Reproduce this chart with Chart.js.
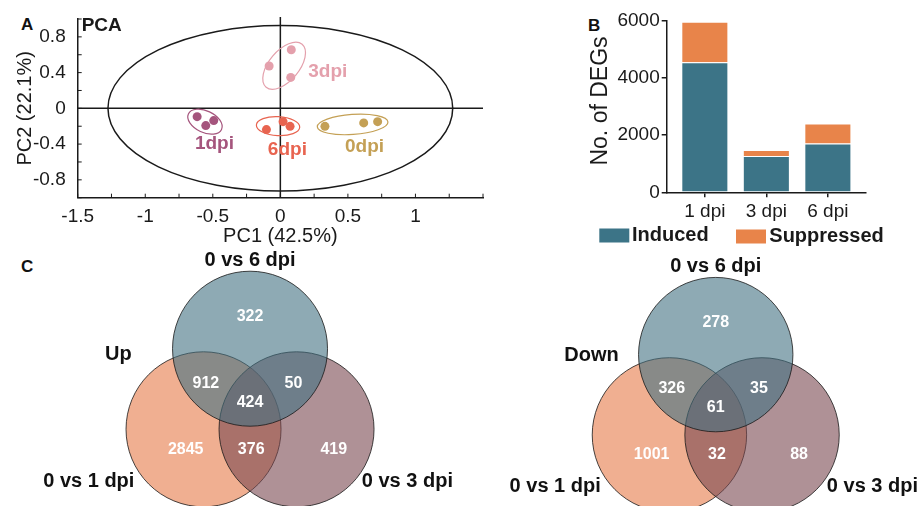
<!DOCTYPE html>
<html lang="en">
<head>
<meta charset="UTF-8">
<title>PCA, DEG counts and Venn diagrams</title>
<script src="https://cdn.jsdelivr.net/npm/chart.js@4.4.0/dist/chart.umd.min.js"></script>
<style>
  html, body { margin: 0; padding: 0; background: #fff; }
  body { width: 924px; height: 506px; position: relative; overflow: hidden; font-family: "Liberation Sans", Arial, sans-serif; }
  canvas { position: absolute; }
  .tag { position: absolute; font-weight: bold; font-size: 17px; line-height: 1; color: #111; }
</style>
</head>
<body>
<div class="tag" style="left:21px;top:16px">A</div>
<div class="tag" style="left:588px;top:17px">B</div>
<div class="tag" style="left:21px;top:258px">C</div>
<canvas id="pca" style="left:0;top:0" width="492" height="250"></canvas>
<canvas id="deg" style="left:560px;top:0" width="364" height="250"></canvas>
<canvas id="vennUp" style="left:0;top:250px" width="462" height="256"></canvas>
<canvas id="vennDown" style="left:462px;top:250px" width="462" height="256"></canvas>

<script>
// ---- data ----
const pcaGroups = ['3dpi', '1dpi', '6dpi', '0dpi'];
const pc1Values = [[0.081, -0.083, 0.077], [-0.616, -0.493, -0.552], [-0.103, 0.020, 0.072], [0.330, 0.617, 0.720]];
const pc2Values = [[0.656, 0.474, 0.346], [-0.093, -0.137, -0.193], [-0.238, -0.149, -0.201], [-0.201, -0.163, -0.149]];
const pc1TickLabels = [-1.5, -1, -0.5, 0, 0.5, 1];
const pc2TickLabels = [-0.8, -0.4, 0, 0.4, 0.8];

const degDays = ['1 dpi', '3 dpi', '6 dpi'];
const induced = [4557, 1269, 1708];
const suppressed = [1420, 216, 700];

const vennSets = ['0 vs 1 dpi', '0 vs 3 dpi', '0 vs 6 dpi'];
// regions: 1 only, 3 only, 6 only, 1&3, 1&6, 3&6, all
const upCounts = [2845, 419, 322, 376, 912, 50, 424];
const downCounts = [1001, 88, 278, 32, 326, 35, 61];

// ---- styling / layout ----
const FONT = '"Liberation Sans", Arial, sans-serif';
const INK = '#1a1a1a';
Chart.defaults.font.family = FONT;
Chart.defaults.color = INK;

const pcaColors = ['#e4a0ac', '#a5557d', '#e86450', '#c4a055'];
const bigEllipse = {rx: 1.276, ry: 0.926};
const groupEllipses = [
  {x: 0.028, y: 0.477, a: 28, b: 15, rot: -50},
  {x: -0.558, y: -0.149, a: 18.3, b: 10.8, rot: 25},
  {x: -0.017, y: -0.199, a: 21.7, b: 9.5, rot: 3},
  {x: 0.535, y: -0.180, a: 35.4, b: 10, rot: -4}
];
const groupLabelPos = [[0.351, 0.413], [-0.488, -0.398], [0.052, -0.461], [0.623, -0.425]];

const vennFill = ['rgba(230,122,72,0.6)', 'rgba(122,72,80,0.6)', 'rgba(67,113,130,0.6)'];
const vennCenters = [[-0.6, -0.52], [0.6, -0.52], [0, 0.52]];
const regionPos = [[-0.83, -0.777], [1.08, -0.777], [0, 0.93], [0.015, -0.777], [-0.57, 0.076], [0.56, 0.076], [0, -0.17]];
const setLabelPos = [[-2.08, -1.19], [2.03, -1.19], [0, 1.66]];

const near = (v, list) => list.some(t => Math.abs(t - v) < 1e-6);
const fmt = v => String(Math.round(v * 10) / 10);

// ---- A: PCA ----
const pcaDecor = {
  id: 'pcaDecor',
  beforeDatasetsDraw(chart) {
    const {ctx, chartArea: a, scales: {x, y}} = chart;
    const x0 = x.getPixelForValue(0), y0 = y.getPixelForValue(0);
    ctx.save();
    ctx.strokeStyle = INK;
    ctx.lineWidth = 1.5;
    ctx.beginPath();
    ctx.moveTo(x0, a.top - 2); ctx.lineTo(x0, a.bottom);
    ctx.moveTo(a.left, y0); ctx.lineTo(a.right, y0);
    ctx.stroke();
    ctx.beginPath();
    ctx.ellipse(x0, y0, x.getPixelForValue(bigEllipse.rx) - x0, y0 - y.getPixelForValue(bigEllipse.ry), 0, 0, 2 * Math.PI);
    ctx.stroke();
    // inward tick marks
    ctx.lineWidth = 1;
    ctx.beginPath();
    x.ticks.forEach(t => { const p = x.getPixelForValue(t.value); ctx.moveTo(p, a.bottom); ctx.lineTo(p, a.bottom - 4); });
    y.ticks.forEach(t => { const p = y.getPixelForValue(t.value); ctx.moveTo(a.left, p); ctx.lineTo(a.left + 4, p); });
    ctx.stroke();
    groupEllipses.forEach((e, i) => {
      ctx.strokeStyle = pcaColors[i];
      ctx.lineWidth = 1.2;
      ctx.beginPath();
      ctx.ellipse(x.getPixelForValue(e.x), y.getPixelForValue(e.y), e.a, e.b, e.rot * Math.PI / 180, 0, 2 * Math.PI);
      ctx.stroke();
    });
    ctx.restore();
  },
  afterDatasetsDraw(chart) {
    const {ctx, chartArea: a, scales: {x, y}} = chart;
    ctx.save();
    ctx.textAlign = 'center';
    ctx.textBaseline = 'middle';
    ctx.font = 'bold 19px ' + FONT;
    pcaGroups.forEach((g, i) => {
      ctx.fillStyle = pcaColors[i];
      ctx.fillText(g, x.getPixelForValue(groupLabelPos[i][0]), y.getPixelForValue(groupLabelPos[i][1]));
    });
    ctx.fillStyle = INK;
    ctx.textAlign = 'left';
    ctx.fillText('PCA', a.left + 4, a.top + 7);
    ctx.restore();
  }
};

new Chart(document.getElementById('pca'), {
  type: 'scatter',
  data: {
    datasets: pcaGroups.map((g, i) => ({
      label: g,
      data: pc1Values[i].map((v, j) => ({x: v, y: pc2Values[i][j]})),
      backgroundColor: pcaColors[i],
      pointRadius: 4.5,
      borderWidth: 0
    }))
  },
  options: {
    responsive: false,
    animation: false,
    events: [],
    layout: {padding: {top: 19, right: 9, left: 0, bottom: 0}},
    plugins: {legend: {display: false}, tooltip: {enabled: false}},
    scales: {
      x: {
        type: 'linear', min: -1.5, max: 1.5,
        ticks: {stepSize: 0.25, autoSkip: false, maxRotation: 0, padding: 0, font: {size: 19}, color: INK,
          callback: v => near(v, pc1TickLabels) ? fmt(v) : ''},
        grid: {display: false},
        border: {display: true, color: INK, width: 1.5},
        title: {display: true, text: 'PC1 (42.5%)', font: {size: 20}, color: INK, padding: {top: 0, bottom: 2}},
        afterFit: s => { s.height = 52.3; }
      },
      y: {
        type: 'linear', min: -1, max: 1,
        ticks: {stepSize: 0.2, autoSkip: false, padding: 4, font: {size: 19}, color: INK,
          callback: v => near(v, pc2TickLabels) ? fmt(v) : ''},
        grid: {display: false},
        border: {display: true, color: INK, width: 1.5},
        title: {display: true, text: 'PC2 (22.1%)', font: {size: 20}, color: INK, padding: {top: 13, bottom: 0}},
        afterFit: s => { s.width = 77.7; }
      }
    }
  },
  plugins: [pcaDecor]
});

// ---- B: DEG counts ----
const degDecor = {
  id: 'degDecor',
  afterDraw(chart) {
    const {ctx} = chart;
    ctx.save();
    ctx.fillStyle = INK;
    ctx.font = '23px ' + FONT;
    ctx.textAlign = 'center';
    ctx.textBaseline = 'middle';
    ctx.translate(40.5, 101);
    ctx.rotate(-Math.PI / 2);
    ctx.fillText('No. of DEGs', 0, 0);
    ctx.restore();
    // legend
    const items = [[39.3, 228.5, 72, 235.5], [176, 229.5, 209.3, 236.5]];
    ctx.save();
    ctx.font = 'bold 20px ' + FONT;
    ctx.textBaseline = 'middle';
    chart.data.datasets.forEach((d, i) => {
      const [bx, by, tx, ty] = items[i];
      ctx.fillStyle = d.backgroundColor;
      ctx.fillRect(bx, by, 30, 14);
      ctx.fillStyle = INK;
      ctx.fillText(d.label, tx, ty);
    });
    ctx.restore();
  }
};

new Chart(document.getElementById('deg'), {
  type: 'bar',
  data: {
    datasets: [
      {label: 'Induced', data: degDays.map((d, i) => ({x: i, y: induced[i]})), backgroundColor: '#3c7487',
        borderColor: 'rgba(255,255,255,0.45)', borderWidth: 1},
      {label: 'Suppressed', data: degDays.map((d, i) => ({x: i, y: suppressed[i]})), backgroundColor: '#e8844a',
        borderColor: 'rgba(255,255,255,0.45)', borderWidth: 1}
    ]
  },
  options: {
    responsive: false,
    animation: false,
    events: [],
    layout: {padding: {top: 21, right: 58, left: 0, bottom: 0}},
    datasets: {bar: {barPercentage: 0.765, categoryPercentage: 1}},
    plugins: {legend: {display: false}, tooltip: {enabled: false}},
    scales: {
      x: {
        type: 'linear', min: -0.62, max: 2.62, stacked: true, offset: false,
        afterBuildTicks: s => { s.ticks = degDays.map((d, i) => ({value: i})); },
        ticks: {autoSkip: false, maxRotation: 0, padding: 3, font: {size: 19}, color: INK, callback: v => degDays[v]},
        grid: {display: true, offset: false, drawOnChartArea: false, drawTicks: true, tickLength: 5, color: INK, lineWidth: 1.5},
        border: {display: true, color: INK, width: 1.5},
        afterFit: s => { s.height = 57.7; }
      },
      y: {
        stacked: true, min: 0, max: 6000,
        ticks: {stepSize: 2000, padding: 2, font: {size: 19}, color: INK, callback: v => String(v)},
        grid: {display: true, drawOnChartArea: false, drawTicks: true, tickLength: 5, color: INK, lineWidth: 1.5},
        border: {display: true, color: INK, width: 1.5},
        afterFit: s => { s.width = 106.7; }
      }
    }
  },
  plugins: [degDecor]
});

// ---- C: Venn diagrams ----
function vennLabels(counts, tag, tagPos) {
  return {
    id: 'vennLabels',
    afterDatasetsDraw(chart) {
      const {ctx, scales: {x, y}} = chart;
      ctx.save();
      ctx.textAlign = 'center';
      ctx.textBaseline = 'middle';
      ctx.fillStyle = '#fff';
      ctx.font = 'bold 16px ' + FONT;
      counts.forEach((c, i) => ctx.fillText(String(c), x.getPixelForValue(regionPos[i][0]), y.getPixelForValue(regionPos[i][1])));
      ctx.fillStyle = '#111';
      ctx.font = 'bold 20px ' + FONT;
      vennSets.forEach((s, i) => ctx.fillText(s, x.getPixelForValue(setLabelPos[i][0]), y.getPixelForValue(setLabelPos[i][1])));
      ctx.fillText(tag, x.getPixelForValue(tagPos[0]), y.getPixelForValue(tagPos[1]));
      ctx.restore();
    }
  };
}

function vennChart(id, counts, tag, tagPos, view) {
  new Chart(document.getElementById(id), {
    type: 'scatter',
    data: {
      // first set drawn at the bottom, last on top
      datasets: vennSets.map((s, i) => ({
        label: s,
        order: vennSets.length - i,
        data: [{x: vennCenters[i][0], y: vennCenters[i][1]}],
        pointBackgroundColor: vennFill[i],
        pointBorderColor: 'rgba(25,25,25,0.8)',
        pointBorderWidth: 1,
        pointRadius: ctx => ctx.chart.scales.x.getPixelForValue(1) - ctx.chart.scales.x.getPixelForValue(0)
      }))
    },
    options: {
      responsive: false,
      animation: false,
      events: [],
      layout: {padding: 0},
      plugins: {legend: {display: false}, tooltip: {enabled: false}},
      scales: {
        x: {type: 'linear', display: false, min: view[0], max: view[1]},
        y: {type: 'linear', display: false, min: view[2], max: view[3]}
      }
    },
    plugins: [vennLabels(counts, tag, tagPos)]
  });
}

vennChart('vennUp', upCounts, 'Up', [-1.70, 0.45], [-3.226, 2.735, -1.510, 1.794]);
vennChart('vennDown', downCounts, 'Down', [-1.61, 0.515], [-3.287, 2.698, -1.441, 1.875]);
</script>
</body>
</html>
